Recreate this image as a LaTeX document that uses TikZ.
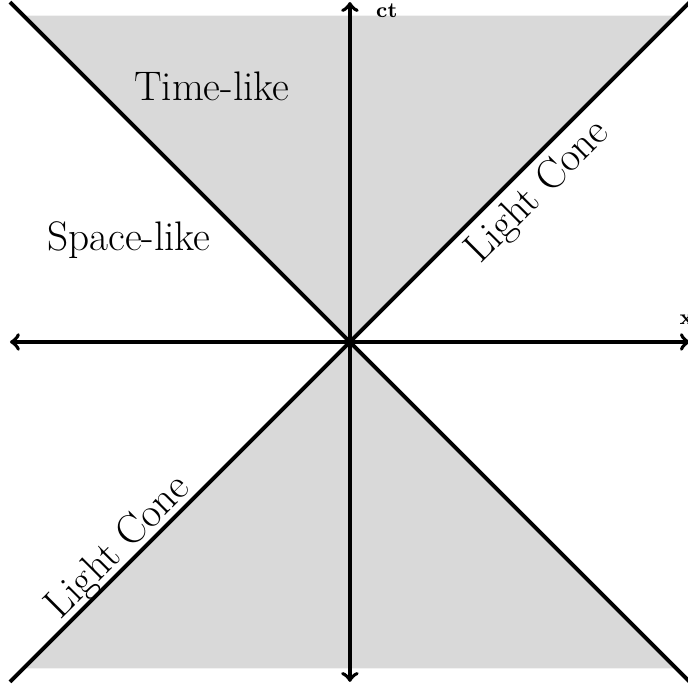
\documentclass[tikz,border=0pt]{standalone}
\begin{document}
\begin{tikzpicture}[
  axis/.style={ultra thick,<->},
  cone/.style={ultra thick},
  region/.style={fill=gray!30},
  lbl/.style={font=\LARGE},
  axlbl/.style={font=\small\bfseries, inner sep=0pt}
]
\useasboundingbox (-5.147,-5.09) rectangle (4.97,5.03);
\coordinate (O) at (0,0);
\coordinate (TL) at (-5,5);
\coordinate (TR) at (5,5);
\coordinate (BL) at (-5,-5);
\coordinate (BR) at (5,-5);
\coordinate (L) at (-5,0);
\coordinate (R) at (5,0);
\coordinate (T) at (0,5);
\coordinate (B) at (0,-5);
\fill[region] (O) -- (-4.8,4.8) -- (4.8,4.8) -- cycle;
\fill[region] (O) -- (-4.8,-4.8) -- (4.8,-4.8) -- cycle;
\draw[cone] (TL) -- (BR);
\draw[cone] (BL) -- (TR);
\draw[axis] (L) -- (R);
\draw[axis] (B) -- (T);
\node[axlbl, anchor=west] (ct) at (0.38,4.87) {ct};
\node[axlbl, anchor=south] (xl) at (4.95,0.25) {x};
\node[lbl] (time) at (-2.03,3.76) {Time-like};
\node[lbl] (space) at (-3.25,1.5) {Space-like};
\node[lbl, rotate=45] (lc1) at (2.77,2.2) {Light Cone};
\node[lbl, rotate=45] (lc2) at (-3.4,-3.03) {Light Cone};
\end{tikzpicture}
\end{document}
